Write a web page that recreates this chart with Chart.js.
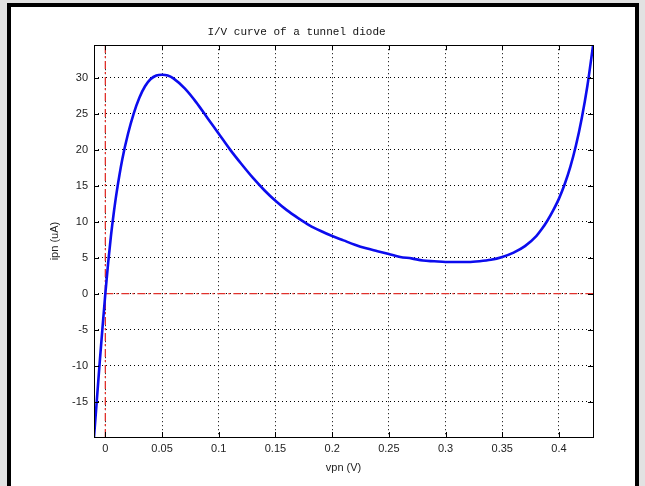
<!DOCTYPE html>
<html>
<head>
<meta charset="utf-8">
<script src="https://cdn.jsdelivr.net/npm/chart.js@4"></script>
<style>
  html, body { margin: 0; padding: 0; }
  body { width: 645px; height: 486px; background: #e2e2e2; position: relative; overflow: hidden; }
  #frame { position: absolute; left: 7px; top: 3px; width: 624px; height: 500px;
           border: 4px solid #000; border-bottom: none; background: #fff; }
  #chart { position: absolute; left: 0; top: 0; }
</style>
</head>
<body>
<div id="frame"></div>
<canvas id="chart" width="645" height="486"></canvas>
<script>
// Voltage across the diode (V) and the current (uA)
var vpn = [-0.01, -0.0075, -0.005, -0.0025, 0, 0.0025, 0.005, 0.0075, 0.01, 0.015,
           0.02, 0.025, 0.03, 0.035, 0.04, 0.045, 0.05, 0.055, 0.06, 0.07,
           0.08, 0.09, 0.1, 0.11, 0.12, 0.13, 0.14, 0.15, 0.16, 0.17,
           0.18, 0.19, 0.2, 0.21, 0.22, 0.23, 0.24, 0.25, 0.26, 0.27,
           0.28, 0.29, 0.3, 0.31, 0.32, 0.33, 0.34, 0.35, 0.36, 0.37,
           0.38, 0.385, 0.39, 0.395, 0.4, 0.405, 0.41, 0.415, 0.42, 0.425, 0.43];
var ipn = [-19.9, -14.8, -9.6, -4.7, 0, 4.3, 8.1, 11.3, 14.1, 18.7,
           22.2, 25.0, 27.2, 28.8, 29.8, 30.3, 30.4, 30.3, 29.9, 28.5,
           26.6, 24.4, 22.2, 20.0, 18.0, 16.1, 14.4, 12.9, 11.6, 10.5,
           9.5, 8.7, 8.0, 7.4, 6.8, 6.3, 5.9, 5.5, 5.1, 4.9,
           4.6, 4.5, 4.4, 4.4, 4.4, 4.5, 4.7, 5.1, 5.7, 6.6,
           8.0, 9.0, 10.2, 11.6, 13.2, 15.2, 17.6, 20.6, 24.3, 28.8, 34.4];

// zero reference lines (red dash-dot)
var zeroLineX = [0, 0.43];
var zeroLineY = [-19.9, 34.5];

// axis ranges and ticks
var xRange = [-0.01, 0.43];
var yRange = [-19.9, 34.5];
var xTickVals = [0, 0.05, 0.1, 0.15, 0.2, 0.25, 0.3, 0.35, 0.4];
var xTickLabels = ["0", "0.05", "0.1", "0.15", "0.2", "0.25", "0.3", "0.35", "0.4"];
var yTickVals = [-15, -10, -5, 0, 5, 10, 15, 20, 25, 30];
var yTickLabels = ["-15", "-10", "-5", "0", "5", "10", "15", "20", "25", "30"];

var curve = vpn.map(function (v, i) { return { x: v, y: ipn[i] } });
var redColor = "#e0322c";
var dashDot = [8, 3, 2, 3];

// draws the frame round the plot and the small inward ticks on all four sides
var boxTicks = {
    id: "boxTicks",
    afterDatasetsDraw: function (chart) {
        var ctx = chart.ctx, a = chart.chartArea;
        var xs = chart.scales.x, ys = chart.scales.y;
        ctx.save();
        ctx.strokeStyle = "#000";
        ctx.lineWidth = 1;
        ctx.beginPath();
        xTickVals.forEach(function (v) {
            var px = Math.round(xs.getPixelForValue(v)) + 0.5;
            ctx.moveTo(px, a.bottom); ctx.lineTo(px, a.bottom - 5);
            ctx.moveTo(px, a.top); ctx.lineTo(px, a.top + 5);
        });
        yTickVals.forEach(function (v) {
            var py = Math.round(ys.getPixelForValue(v)) + 0.5;
            ctx.moveTo(a.left, py); ctx.lineTo(a.left + 5, py);
            ctx.moveTo(a.right, py); ctx.lineTo(a.right - 5, py);
        });
        ctx.stroke();
        ctx.strokeRect(Math.round(a.left) + 0.5, Math.round(a.top) + 0.5,
                       Math.round(a.right - a.left), Math.round(a.bottom - a.top));
        ctx.restore();
    }
};

var tickFont = { family: "'Liberation Sans', Arial, sans-serif", size: 11 };

new Chart(document.getElementById("chart"), {
    type: "scatter",
    data: {
        datasets: [{
            data: curve,
            showLine: true,
            borderColor: "#0c0cee",
            borderWidth: 2.6,
            pointRadius: 0,
            cubicInterpolationMode: "monotone"
        }, {
            data: zeroLineX.map(function (v) { return { x: v, y: 0 } }),
            showLine: true,
            borderColor: redColor,
            borderWidth: 1.3,
            borderDash: dashDot,
            pointRadius: 0
        }, {
            data: zeroLineY.map(function (v) { return { x: 0, y: v } }),
            showLine: true,
            borderColor: redColor,
            borderWidth: 1.3,
            borderDash: dashDot,
            pointRadius: 0
        }]
    },
    options: {
        responsive: false,
        animation: false,
        devicePixelRatio: 1,
        layout: { padding: { left: 0, right: 52, top: 0, bottom: 0 } },
        plugins: {
            legend: { display: false },
            tooltip: { enabled: false },
            title: {
                display: true,
                text: "I/V curve of a tunnel diode",
                color: "#111",
                font: { family: "'Liberation Mono', 'DejaVu Sans Mono', monospace", size: 11, weight: "normal" },
                padding: { top: 25, bottom: 7 }
            }
        },
        scales: {
            x: {
                type: "linear",
                min: xRange[0],
                max: xRange[1],
                afterBuildTicks: function (scale) {
                    scale.ticks = xTickVals.map(function (v) { return { value: v } });
                },
                afterFit: function (scale) { scale.height = 49; },
                ticks: {
                    autoSkip: false,
                    maxRotation: 0,
                    padding: 5,
                    color: "#222",
                    font: tickFont,
                    callback: function (v, i) { return xTickLabels[i]; }
                },
                grid: { color: "#000", lineWidth: 1, drawTicks: false },
                border: { display: false, dash: [1, 3] },
                title: {
                    display: true,
                    text: "vpn (V)",
                    color: "#222",
                    font: tickFont,
                    padding: { top: 0, bottom: 11 }
                }
            },
            y: {
                type: "linear",
                min: yRange[0],
                max: yRange[1],
                afterBuildTicks: function (scale) {
                    scale.ticks = yTickVals.map(function (v) { return { value: v } });
                },
                afterFit: function (scale) { scale.width = 94; },
                ticks: {
                    autoSkip: false,
                    padding: 6,
                    color: "#222",
                    font: tickFont,
                    callback: function (v, i) { return yTickLabels[i]; }
                },
                grid: { color: "#000", lineWidth: 1, drawTicks: false },
                border: { display: false, dash: [1, 3] },
                title: {
                    display: true,
                    text: "ipn (uA)",
                    color: "#222",
                    font: tickFont,
                    padding: { top: 48, bottom: 0 }
                }
            }
        }
    },
    plugins: [boxTicks]
});
</script>
</body>
</html>
